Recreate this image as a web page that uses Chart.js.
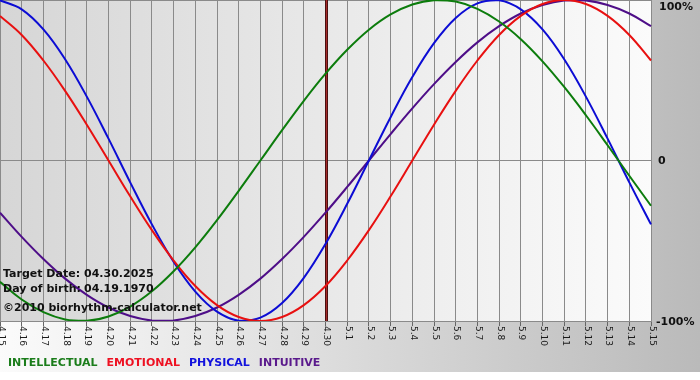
<!DOCTYPE html>
<html>
<head>
<meta charset="utf-8">
<title>Biorhythm</title>
<script src="https://cdn.jsdelivr.net/npm/chart.js@4.4.1/dist/chart.umd.min.js"></script>
<style>
  html, body { margin: 0; padding: 0; background: #fff; }
  #wrap { width: 700px; height: 380px; position: relative; }
</style>
</head>
<body>
<div id="wrap"><canvas id="bio" width="700" height="380"></canvas></div>
<script>
// days shown on the x axis (04.15 .. 05.15)
const days = ['4.15','4.16','4.17','4.18','4.19','4.20','4.21','4.22','4.23','4.24','4.25','4.26','4.27','4.28','4.29','4.30',
              '5.1','5.2','5.3','5.4','5.5','5.6','5.7','5.8','5.9','5.10','5.11','5.12','5.13','5.14','5.15'];

// cycle values, -1 .. 1
const intellectual = [-0.756,-0.866,-0.945,-0.990,-0.999,-0.972,-0.910,-0.815,-0.690,-0.541,-0.372,-0.189,0,0.189,0.372,0.541,
                      0.690,0.815,0.910,0.972,0.999,0.990,0.945,0.866,0.756,0.618,0.458,0.282,0.095,-0.095,-0.282];
const emotional    = [0.901,0.782,0.623,0.434,0.223,0,-0.223,-0.434,-0.623,-0.782,-0.901,-0.975,-1,-0.975,-0.901,-0.782,
                      -0.623,-0.434,-0.223,0,0.223,0.434,0.623,0.782,0.901,0.975,1,0.975,0.901,0.782,0.623];
const physical     = [0.998,0.942,0.817,0.631,0.398,0.136,-0.136,-0.398,-0.631,-0.817,-0.942,-0.998,-0.979,-0.888,-0.731,-0.520,
                      -0.270,0,0.270,0.520,0.731,0.888,0.979,0.998,0.942,0.817,0.631,0.398,0.136,-0.136,-0.398];
const intuitive    = [-0.325,-0.476,-0.614,-0.736,-0.837,-0.916,-0.969,-0.997,-0.997,-0.969,-0.916,-0.837,-0.736,-0.614,-0.476,-0.325,
                      -0.165,0,0.165,0.325,0.476,0.614,0.736,0.837,0.916,0.969,0.997,0.997,0.969,0.916,0.837];

const yTicks = [1, 0, -1];
const yTickLabels = ['100%', '0', '-100%'];

const targetDay = '4.30';
const infoLines = [
  ['Target Date:', '04.30.2025'],
  ['Day of birth:', '04.19.1970'],
];
const credit = '\u00a92010 biorhythm-calculator.net';

const BOLD = 'bold 11px "DejaVu Sans", Verdana, sans-serif';

// backgrounds, target line, custom tick labels, info text and legend
const bioPlugin = {
  id: 'bio',
  beforeDraw(chart) {
    const { ctx, chartArea: a, width, height } = chart;
    ctx.save();
    ctx.fillStyle = '#fff';
    ctx.fillRect(0, 0, width, height);
    let g = ctx.createLinearGradient(0, 0, width, 0);
    g.addColorStop(0, '#fbfbfb');
    g.addColorStop(1, '#bababa');
    ctx.fillStyle = g;
    ctx.fillRect(0, 0, width, 372);
    g = ctx.createLinearGradient(a.left, 0, a.right, 0);
    g.addColorStop(0, '#d6d6d6');
    g.addColorStop(1, '#fbfbfb');
    ctx.fillStyle = g;
    ctx.fillRect(a.left, a.top, a.right - a.left, a.bottom - a.top);
    ctx.restore();
  },
  beforeDatasetsDraw(chart) {
    const { ctx, chartArea: a, scales: { x } } = chart;
    const px = Math.round(x.getPixelForValue(days.indexOf(targetDay))) + 0.5;
    ctx.save();
    ctx.strokeStyle = '#4a1010';
    ctx.lineWidth = 3;
    ctx.beginPath(); ctx.moveTo(px, a.top); ctx.lineTo(px, a.bottom); ctx.stroke();
    ctx.strokeStyle = '#a52a2a';
    ctx.lineWidth = 1;
    ctx.beginPath(); ctx.moveTo(px, a.top); ctx.lineTo(px, a.bottom); ctx.stroke();
    ctx.restore();
  },
  afterDraw(chart) {
    const { ctx, chartArea: a, scales: { x, y } } = chart;
    ctx.save();

    // x tick labels, reading downwards
    ctx.font = '9px "DejaVu Sans", Verdana, sans-serif';
    ctx.fillStyle = '#1a1a1a';
    ctx.textAlign = 'left';
    ctx.textBaseline = 'middle';
    days.forEach((d, i) => {
      ctx.save();
      ctx.translate(x.getPixelForValue(i) + 1, a.bottom + 5);
      ctx.rotate(Math.PI / 2);
      ctx.fillText(d, 0, 0);
      ctx.restore();
    });

    // y labels on the right
    ctx.font = BOLD;
    ctx.fillStyle = '#111';
    yTicks.forEach((v, i) => {
      const py = y.getPixelForValue(v);
      ctx.textBaseline = v === 1 ? 'top' : 'middle';
      ctx.fillText(yTickLabels[i], a.right + (v === -1 ? 5 : v === 0 ? 7 : 8), v === 1 ? py + 2 : py + 1);
    });

    // info text inside the plot
    ctx.textBaseline = 'alphabetic';
    infoLines.forEach(([lbl, val], i) => {
      const by = 277 + i * 15;
      ctx.fillText(lbl, 3, by);
      ctx.fillText(val, 84, by);
    });
    ctx.fillText(credit, 3, 311);

    // legend
    let lx = 8;
    chart.data.datasets.forEach(ds => {
      ctx.fillStyle = ds.legendColor;
      ctx.fillText(ds.label, lx, 366);
      lx += ctx.measureText(ds.label).width + 9;
    });
    ctx.restore();
  }
};

const series = (label, data, color, legendColor) => ({
  label, data,
  borderColor: color,
  legendColor,
  borderWidth: 2,
  pointRadius: 0,
  tension: 0.4,
  fill: false,
});

new Chart(document.getElementById('bio'), {
  type: 'line',
  data: {
    labels: days,
    datasets: [
      series('INTELLECTUAL', intellectual, '#0c7c0c', '#1b7d1b'),
      series('EMOTIONAL', emotional, '#e81010', '#ee1122'),
      series('PHYSICAL', physical, '#0c0cd4', '#1212dd'),
      series('INTUITIVE', intuitive, '#4e0e88', '#5a1a8c'),
    ],
  },
  options: {
    responsive: false,
    animation: false,
    layout: { padding: 0 },
    plugins: { legend: { display: false }, tooltip: { enabled: false } },
    scales: {
      x: {
        type: 'category',
        offset: false,
        ticks: { display: false },
        grid: { color: '#8a8a8a', lineWidth: 1, drawTicks: true, tickLength: 5, tickColor: '#666' },
        border: { display: true, color: '#8a8a8a' },
        afterFit: s => { s.height = 59; },
      },
      y: {
        position: 'right',
        min: -1, max: 1,
        ticks: { display: false, stepSize: 1 },
        grid: { color: '#8a8a8a', drawTicks: false },
        border: { display: true, color: '#8a8a8a' },
        afterFit: s => { s.width = 49; },
      },
    },
  },
  plugins: [bioPlugin],
});
</script>
</body>
</html>
